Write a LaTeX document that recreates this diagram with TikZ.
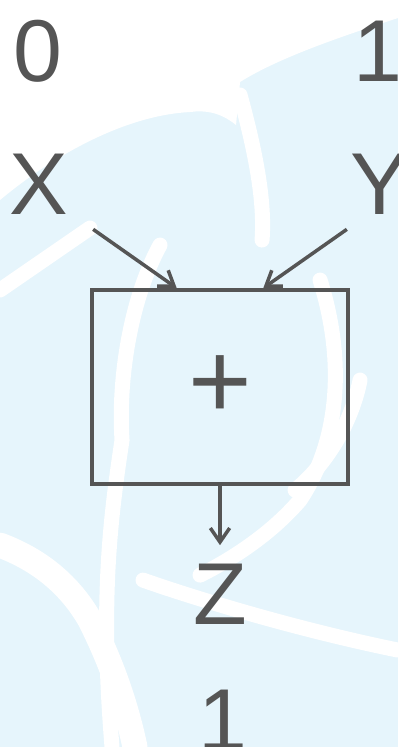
\documentclass[tikz,border=0pt]{standalone}
\usepackage{fontspec}
\setmainfont{Liberation Sans}
\usetikzlibrary{arrows.meta,calc}
\definecolor{ink}{HTML}{555555}
\definecolor{wmark}{HTML}{E6F5FC}

\begin{document}
\begin{tikzpicture}[
    val/.style={font=\fontsize{50}{60}\selectfont, text=ink, inner sep=0pt, anchor=base},
    adder/.style={draw=ink, line width=2.2pt, minimum width=5.12cm, minimum height=3.88cm,
        inner sep=0pt, font=\fontsize{62}{70}\selectfont, text=ink},
    arr/.style={draw=ink, line width=2pt, -{Straight Barb[length=8pt,width=11pt]}},
    band/.style={white, line width=0.3cm, line cap=round}
]
    % Canvas
    \clip (0,0) rectangle (7.96,14.94);
    \fill[white] (0,0) rectangle (7.96,14.94);

    % Watermark (pixel units)
    \begin{scope}[shift={(0,14.94)}, x=0.02cm, y=-0.02cm]
        \fill[wmark] (0,0) rectangle (398,747);
        \fill[white] (0,0) -- (398,0) -- (398,18)
            .. controls (330,40) and (275,60) .. (240,82)
            -- (236,125)
            .. controls (220,112) and (205,110) .. (190,112)
            .. controls (130,115) and (60,150) .. (0,200) -- cycle;
        \draw[band] (240,95) .. controls (255,150) and (265,200) .. (262,240);
        \draw[band] (0,290) -- (90,228);
        \draw[band] (160,245) .. controls (130,300) and (118,380) .. (122,440)
            .. controls (110,520) and (100,600) .. (112,747);
        \draw[band, line width=0.5cm] (0,545) .. controls (40,560) and (70,585) .. (90,620)
            .. controls (110,660) and (125,700) .. (135,747);
        \draw[band] (320,280) .. controls (345,360) and (340,440) .. (300,500)
            .. controls (270,535) and (230,560) .. (200,575);
        \draw[band] (143,580) .. controls (200,600) and (300,630) .. (398,650);
        \draw[band] (360,380) .. controls (350,430) and (320,470) .. (295,490);
    \end{scope}

    % Top values
    \node[val] (vx) at (0.75,13.30) {0};
    \node[val] (vy) at (7.56,13.30) {1};

    % Inputs
    \node[val] (X) at (0.78,10.64) {X};
    \node[val] (Y) at (7.60,10.64) {Y};

    % Adder
    \node[adder] (box) at (4.40,7.20) {+};
    \coordinate (inL) at ($(box.north west)!1/3!(box.north east)$);
    \coordinate (inR) at ($(box.north west)!2/3!(box.north east)$);

    % Output
    \node[val] (Z) at (4.40,2.44) {Z};
    \node[val] (vz) at (4.46,-0.06) {1};

    % Connections
    \draw[arr] ([shift={(0.49,-0.28)}]X.south east) -- (inL);
    \draw[arr] ([shift={(-0.07,-0.28)}]Y.south west) -- (inR);
    \draw[arr, shorten >=0.38cm] (box.south) -- (Z.north);
\end{tikzpicture}
\end{document}
